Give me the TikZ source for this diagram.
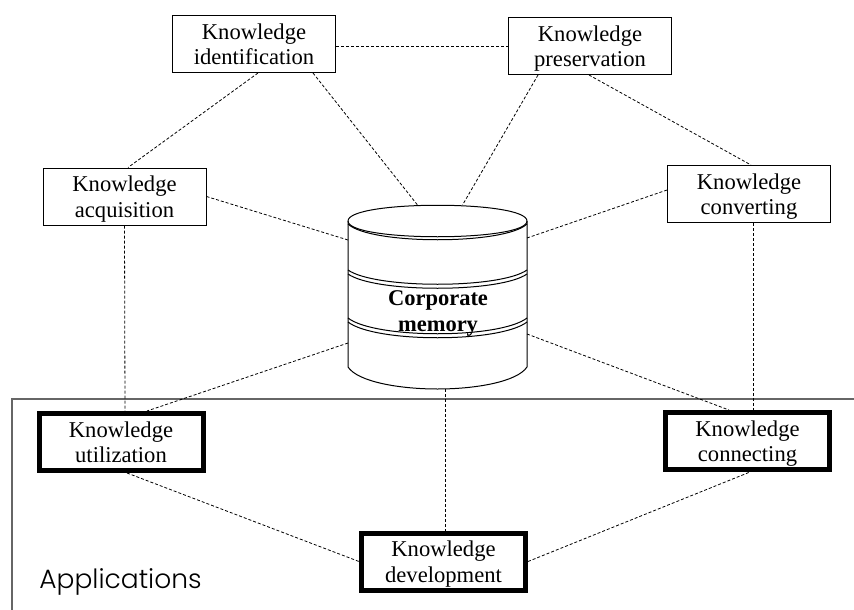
\documentclass[tikz,border=0pt]{standalone}
\usepackage{fontspec}
\setmainfont{Liberation Serif}
\newfontfamily\appfont{Poppins Light}
\tikzset{every picture/.style={x=1pt,y=-1pt}}
\tikzset{kbox/.style={rectangle,draw,line width=1pt,minimum width=163,minimum height=57,inner sep=0pt,align=center,text depth=0pt,font=\fontsize{22.6}{25.5}\selectfont}}
\tikzset{kapp/.style={kbox,line width=5pt,minimum width=164}}
\tikzset{link/.style={dashed,dash pattern=on 3pt off 2pt,line width=.8pt}}
\tikzset{wall/.style={line width=1pt}}
\begin{document}
\begin{tikzpicture}
\useasboundingbox (0,0) rectangle (854,610);

\coordinate (fa) at (12,610);
\coordinate (fb) at (12,399);
\coordinate (fc) at (854,399);
\draw [line width=1.2pt,black!60] (fa) -- (fb) -- (fc);

\node [kbox] (ident) at (254,44) {Knowledge\\identification};
\node [kbox] (pres) at (590,46) {Knowledge\\preservation};
\node [kbox] (acq) at (124.5,196.5) {Knowledge\\acquisition};
\node [kbox] (conv) at (749,194) {Knowledge\\converting};

\node [kapp] (util) at (121,442) {Knowledge\\utilization};
\node [kapp] (conn) at (747.5,441) {Knowledge\\connecting};
\node [kapp] (dev) at (443.5,561.5) {Knowledge\\development};

\node [minimum width=179,minimum height=184,inner sep=0pt,outer sep=0pt] (mem) at (437.5,297) {};
\node [align=center,font=\fontsize{22.5}{26}\bfseries\selectfont] (memtext) at (438,313) {Corporate\\memory};

\draw [wall] (348,221) .. controls (348,200) and (527,200) .. (527,221);
\draw [wall] (348,221) .. controls (348,242) and (527,242) .. (527,221);
\draw [wall] (348,224) .. controls (370,245) and (505,245) .. (527,224);

\draw [wall] (348,270) .. controls (375,289) and (500,289) .. (527,270);
\draw [wall] (348,274) .. controls (375,293) and (500,293) .. (527,274);

\draw [wall] (348,318) .. controls (375,339) and (500,339) .. (527,318);
\draw [wall] (348,322) .. controls (375,343) and (500,343) .. (527,322);

\draw [wall] (348,221) -- (348,367) .. controls (358,382) and (400,389) .. (437.5,389) .. controls (475,389) and (517,382) .. (527,367) -- (527,221);

\draw [link] ([yshift=-2pt]ident.east) -- (pres.west);
\draw [link] ([xshift=4pt]ident.south) -- ([xshift=3.5pt]acq.north);
\draw [link] ([xshift=59pt]ident.south) -- ([xshift=-20pt]mem.north);
\draw [link] ([xshift=-52pt]pres.south) -- ([xshift=25pt]mem.north);
\draw [link] ([xshift=-1pt]pres.south) -- ([xshift=2pt]conv.north);
\draw [link] (acq.east) -- ([yshift=57pt]mem.west);
\draw [link] ([yshift=4pt]conv.west) -- ([yshift=59pt]mem.east);
\draw [link] (acq.south) -- ([xshift=4pt]util.north);
\draw [link] ([xshift=4pt]conv.south) -- ([xshift=5.5pt]conn.north);
\draw [link] ([yshift=-46pt]mem.west) -- ([xshift=26pt]util.north);
\draw [link] ([yshift=-37pt]mem.east) -- ([xshift=-18.5pt]conn.north);
\draw [link] ([xshift=7.5pt]mem.south) -- ([xshift=1.5pt]dev.north);
\draw [link] ([xshift=6pt]util.south) -- (dev.west);
\draw [link] (dev.east) -- ([xshift=2.5pt]conn.south);

\node [font=\appfont\fontsize{26.5}{30}\selectfont,inner sep=0pt] (apps) at (120.5,582) {Applications};
\end{tikzpicture}
\end{document}
